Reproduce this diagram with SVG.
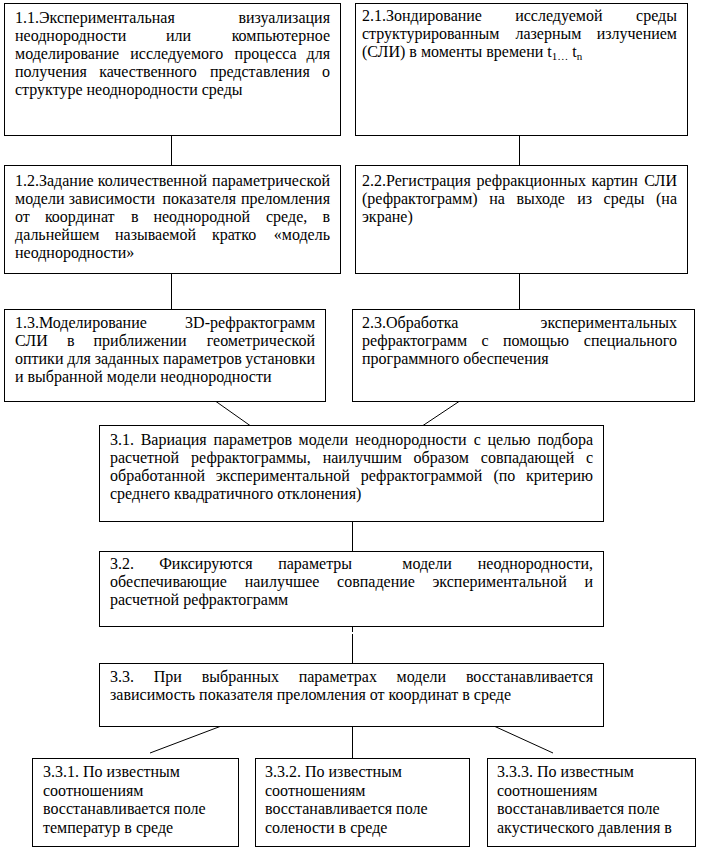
<svg xmlns="http://www.w3.org/2000/svg" width="702" height="859" viewBox="0 0 702 859">
<style>
.box{fill:#fff;stroke:#000;stroke-width:1}
.t{font-family:'Liberation Serif','Times New Roman',serif;font-size:16px;fill:#000}
.e{text-anchor:end}
.sub{font-size:11px}
.c{stroke:#000;stroke-width:1;fill:none}
</style>
<rect width="702" height="859" fill="#fff"/>
<g id="connectors">
<line class="c" x1="171.5" y1="135.5" x2="171.5" y2="165.5"/>
<line class="c" x1="519.5" y1="135.5" x2="519.5" y2="165.5"/>
<line class="c" x1="171.5" y1="273.5" x2="171.5" y2="309.5"/>
<line class="c" x1="519.5" y1="273.5" x2="519.5" y2="309.5"/>
<line class="c" x1="216" y1="401.5" x2="250" y2="425.5"/>
<line class="c" x1="459" y1="401.5" x2="423" y2="425.5"/>
<line class="c" x1="352.5" y1="521.5" x2="352.5" y2="551.5"/>
<line class="c" x1="352.5" y1="626.5" x2="352.5" y2="632"/>
<line class="c" x1="352.5" y1="634" x2="352.5" y2="663.5"/>
<line class="c" x1="220" y1="726.5" x2="150" y2="753"/>
<line class="c" x1="352.5" y1="726.5" x2="352.5" y2="758.5"/>
<line class="c" x1="495" y1="726.5" x2="553" y2="753"/>
</g>
<g id="n11">
<rect class="box" x="4.5" y="3.5" width="336" height="132"/>
<text class="t" x="15" y="23">1.1.Экспериментальная</text>
<text class="t e" x="330" y="23">визуализация</text>
<text class="t" y="41"><tspan x="15">неоднородности</tspan><tspan x="166">или</tspan></text>
<text class="t e" x="330" y="41">компьютерное</text>
<text class="t" y="59"><tspan x="15">моделирование</tspan><tspan x="130.3">исследуемого</tspan><tspan x="234.6">процесса</tspan></text>
<text class="t e" x="330" y="59">для</text>
<text class="t" y="77"><tspan x="15">получения</tspan><tspan x="99.3">качественного</tspan><tspan x="209.9">представления</tspan></text>
<text class="t e" x="330" y="77">о</text>
<text class="t" x="15" y="95">структуре неоднородности среды</text>
</g>
<g id="n21">
<rect class="box" x="355.5" y="3.5" width="332" height="132"/>
<text class="t" y="21"><tspan x="362">2.1.Зондирование</tspan><tspan x="515.2">исследуемой</tspan></text>
<text class="t e" x="677" y="21">среды</text>
<text class="t" y="39"><tspan x="362">структурированным</tspan><tspan x="515.4">лазерным</tspan></text>
<text class="t e" x="677" y="39">излучением</text>
<text class="t" x="362" y="57">(СЛИ) в моменты времени t<tspan class="sub" dy="3">1…</tspan><tspan dy="-3"> t</tspan><tspan class="sub" dy="3">n</tspan></text>
</g>
<g id="n12">
<rect class="box" x="4.5" y="165.5" width="336" height="108"/>
<text class="t" y="186"><tspan x="15">1.2.Задание</tspan><tspan x="97.8">количественной</tspan></text>
<text class="t e" x="330" y="186">параметрической</text>
<text class="t" y="204"><tspan x="15">модели</tspan><tspan x="68.8">зависимости</tspan><tspan x="162.5">показателя</tspan></text>
<text class="t e" x="330" y="204">преломления</text>
<text class="t" y="222"><tspan x="15">от</tspan><tspan x="44.9">координат</tspan><tspan x="130.9">в</tspan><tspan x="153.4">неоднородной</tspan><tspan x="266">среде,</tspan></text>
<text class="t e" x="330" y="222">в</text>
<text class="t" y="240"><tspan x="15">дальнейшем</tspan><tspan x="115">называемой</tspan><tspan x="211.9">кратко</tspan></text>
<text class="t e" x="330" y="240">«модель</text>
<text class="t" x="15" y="258">неоднородности»</text>
</g>
<g id="n22">
<rect class="box" x="355.5" y="165.5" width="332" height="108"/>
<text class="t" y="186"><tspan x="362">2.2.Регистрация</tspan><tspan x="476.5">рефракционных</tspan><tspan x="591.4">картин</tspan></text>
<text class="t e" x="677" y="186">СЛИ</text>
<text class="t" y="204"><tspan x="362">(рефрактограмм)</tspan><tspan x="489.3">на</tspan><tspan x="516.4">выходе</tspan><tspan x="577.3">из</tspan><tspan x="603.6">среды</tspan></text>
<text class="t e" x="677" y="204">(на</text>
<text class="t" x="362" y="222">экране)</text>
</g>
<g id="n13">
<rect class="box" x="4.5" y="309.5" width="321" height="92"/>
<text class="t" x="15" y="328">1.3.Моделирование</text>
<text class="t e" x="315" y="328">3D-рефрактограмм</text>
<text class="t" y="346"><tspan x="15">СЛИ</tspan><tspan x="66.9">в</tspan><tspan x="93.5">приближении</tspan></text>
<text class="t e" x="315" y="346">геометрической</text>
<text class="t" y="364"><tspan x="15">оптики</tspan><tspan x="67.3">для</tspan><tspan x="94.7">заданных</tspan><tspan x="163.1">параметров</tspan></text>
<text class="t e" x="315" y="364">установки</text>
<text class="t" x="15" y="382">и выбранной модели неоднородности</text>
</g>
<g id="n23">
<rect class="box" x="352.5" y="309.5" width="342" height="92"/>
<text class="t" x="362" y="328">2.3.Обработка</text>
<text class="t e" x="677" y="328">экспериментальных</text>
<text class="t" y="346"><tspan x="362">рефрактограмм</tspan><tspan x="481.6">с</tspan><tspan x="503">помощью</tspan></text>
<text class="t e" x="677" y="346">специального</text>
<text class="t" x="362" y="364">программного обеспечения</text>
</g>
<g id="n31">
<rect class="box" x="99.5" y="425.5" width="504" height="96"/>
<text class="t" y="445"><tspan x="110">3.1.</tspan><tspan x="140.7">Вариация</tspan><tspan x="213.4">параметров</tspan><tspan x="298.6">модели</tspan><tspan x="355.3">неоднородности</tspan><tspan x="473.7">с</tspan><tspan x="487.5">целью</tspan></text>
<text class="t e" x="593" y="445">подбора</text>
<text class="t" y="463"><tspan x="110">расчетной</tspan><tspan x="191.1">рефрактограммы,</tspan><tspan x="322.7">наилучшим</tspan><tspan x="413.6">образом</tspan><tspan x="480.8">совпадающей</tspan></text>
<text class="t e" x="593" y="463">с</text>
<text class="t" y="481"><tspan x="110">обработанной</tspan><tspan x="215.7">экспериментальной</tspan><tspan x="360.8">рефрактограммой</tspan><tspan x="493.4">(по</tspan></text>
<text class="t e" x="593" y="481">критерию</text>
<text class="t" x="110" y="499">среднего квадратичного отклонения)</text>
</g>
<g id="n32">
<rect class="box" x="99.5" y="551.5" width="504" height="75"/>
<text class="t" y="569"><tspan x="110">3.2.</tspan><tspan x="159.2">Фиксируются</tspan><tspan x="278.2">параметры</tspan><tspan x="402.3">модели</tspan></text>
<text class="t e" x="593" y="569">неоднородности,</text>
<text class="t" y="587"><tspan x="110">обеспечивающие</tspan><tspan x="244.7">наилучшее</tspan><tspan x="337.1">совпадение</tspan><tspan x="432.5">экспериментальной</tspan></text>
<text class="t e" x="593" y="587">и</text>
<text class="t" x="110" y="605">расчетной рефрактограмм</text>
</g>
<g id="n33">
<rect class="box" x="99.5" y="663.5" width="504" height="63"/>
<text class="t" y="682"><tspan x="110">3.3.</tspan><tspan x="153.8">При</tspan><tspan x="201.7">выбранных</tspan><tspan x="298.7">параметрах</tspan><tspan x="396.6">модели</tspan></text>
<text class="t e" x="593" y="682">восстанавливается</text>
<text class="t" x="110" y="700">зависимость показателя преломления от координат в среде</text>
</g>
<g id="n331">
<rect class="box" x="32.5" y="758.5" width="206" height="88"/>
<text class="t" x="43" y="777">3.3.1. По известным</text>
<text class="t" x="43" y="795.5">соотношениям</text>
<text class="t" x="43" y="814">восстанавливается поле</text>
<text class="t" x="43" y="832.5">температур в среде</text>
</g>
<g id="n332">
<rect class="box" x="255.5" y="758.5" width="214" height="88"/>
<text class="t" x="265" y="777">3.3.2. По известным</text>
<text class="t" x="265" y="795.5">соотношениям</text>
<text class="t" x="265" y="814">восстанавливается поле</text>
<text class="t" x="265" y="832.5">солености в среде</text>
</g>
<g id="n333">
<rect class="box" x="487.5" y="758.5" width="208" height="88"/>
<text class="t" x="497" y="777">3.3.3. По известным</text>
<text class="t" x="497" y="795.5">соотношениям</text>
<text class="t" x="497" y="814">восстанавливается поле</text>
<text class="t" x="497" y="832.5">акустического давления в</text>
</g>
</svg>
